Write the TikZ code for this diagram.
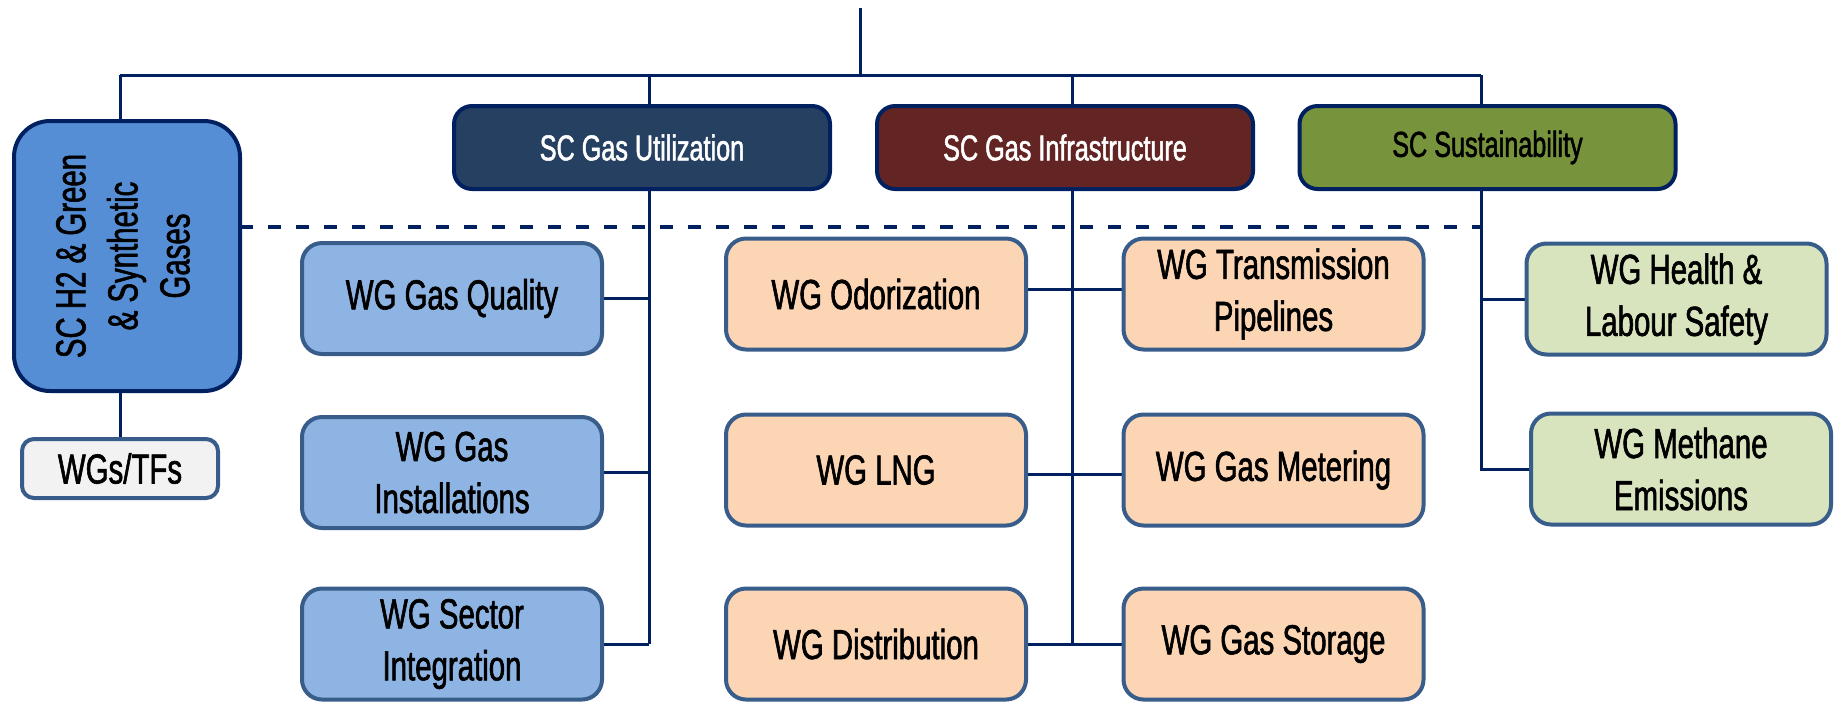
\documentclass[tikz,border=0pt]{standalone}
\usepackage{fontspec}
\setmainfont{Liberation Sans}[FakeStretch=0.70,FakeBold=1.4]
\usetikzlibrary{backgrounds}
\definecolor{navy}{RGB}{0,32,96}
\definecolor{wgline}{RGB}{56,93,138}
\definecolor{utilfill}{RGB}{37,64,97}
\definecolor{infrafill}{RGB}{99,37,35}
\definecolor{sustfill}{RGB}{119,147,60}
\definecolor{hfill}{RGB}{85,142,213}
\definecolor{bluefill}{RGB}{142,180,227}
\definecolor{orangefill}{RGB}{252,213,181}
\definecolor{greenfill}{RGB}{215,228,189}
\definecolor{greyfill}{RGB}{242,242,242}
\begin{document}
\begin{tikzpicture}[x=0.5pt,y=-0.5pt,
  conn/.style={draw=navy, line width=1.5pt},
  dashconn/.style={draw=navy, line width=2pt, dash pattern=on 6.5pt off 7.5pt},
  boxbase/.style={rectangle, inner sep=0pt, outer sep=0pt, align=center, line width=2pt},
  scbox/.style={boxbase, draw=navy, rounded corners=9pt, minimum width=188pt, minimum height=41.5pt, font=\fontsize{18}{20}\selectfont},
  wgbox/.style={boxbase, draw=wgline, rounded corners=10pt, minimum width=150pt, minimum height=55.5pt, font=\fontsize{21}{26}\selectfont},
  bluebox/.style={wgbox, fill=bluefill},
  orangebox/.style={wgbox, fill=orangefill},
  greenbox/.style={wgbox, fill=greenfill},
]
\useasboundingbox (0,0) rectangle (1839,703);

% top-level committees
\node[boxbase, draw=navy, fill=hfill, rounded corners=18pt, minimum width=113pt, minimum height=135pt,
      font=\fontsize{21}{26}\selectfont] (h2) at (127,256)
  {\rotatebox{90}{\begin{tabular}{@{}c@{}}SC H2 \& Green\\ \& Synthetic\\ Gases\end{tabular}}};
\node[boxbase, draw=wgline, fill=greyfill, rounded corners=6pt, minimum width=98pt, minimum height=29.5pt,
      font=\fontsize{21}{26}\selectfont] (wgs) at (120,468.5) {WGs/TFs};

\node[scbox, fill=utilfill, text=white] (util) at (642,147.5) {SC Gas Utilization};
\node[scbox, fill=infrafill, text=white] (infra) at (1065,147.5) {SC Gas Infrastructure};
\node[scbox, fill=sustfill] (sust) at (1487.5,147.5) {SC Sustainability};

% working groups
\node[bluebox] (quality) at (452,298.5) {WG Gas Quality};
\node[bluebox] (install) at (452,472.5) {WG Gas\\Installations};
\node[bluebox] (sector) at (452,644) {WG Sector\\Integration};

\node[orangebox] (odor) at (876,294) {WG Odorization};
\node[orangebox] (lng) at (876,470) {WG LNG};
\node[orangebox] (distr) at (876,644) {WG Distribution};

\node[orangebox] (trans) at (1273.5,294) {WG Transmission\\Pipelines};
\node[orangebox] (meter) at (1273.5,470) {WG Gas Metering};
\node[orangebox] (storage) at (1273.5,644) {WG Gas Storage};

\node[greenbox] (health) at (1676.5,299) {WG Health \&\\Labour Safety};
\node[greenbox] (methane) at (1681,469) {WG Methane\\Emissions};

% connector coordinates
\coordinate (top) at (860,8);
\coordinate (j) at (860,75);
\coordinate (c0) at (120,75);
\coordinate (c1) at (649,75);
\coordinate (c2) at (1072,75);
\coordinate (c3) at (1481,75);

\begin{scope}[on background layer]
  \draw[conn] (top) -- (j);
  \draw[conn] (c0) -- (c3);
  \draw[conn] (c0) -- (c0 |- h2.north);
  \draw[conn] (wgs.north |- h2.south) -- (wgs.north);
  % column 1
  \draw[conn] (c1) -- (c1 |- sector.east);
  \draw[conn] (quality.east) -- (quality.east -| c1);
  \draw[conn] (install.east) -- (install.east -| c1);
  \draw[conn] (sector.east) -- (sector.east -| c1);
  % column 2
  \draw[conn] (c2) -- (c2 |- distr.east);
  \draw[conn] ([yshift=2.5pt]odor.east) -- ([yshift=2.5pt]trans.west);
  \draw[conn] ([yshift=-2pt]lng.east) -- ([yshift=-2pt]meter.west);
  \draw[conn] (distr.east) -- (storage.west);
  % column 3
  \draw[conn] (c3) -- (c3 |- methane.west) -- (methane.west);
  \draw[conn] (health.west -| c3) -- (health.west);
  % dashed separator
  \draw[dashconn] ([yshift=14.5pt]h2.east) -- ([yshift=14.5pt]h2.east -| c3);
\end{scope}
\end{tikzpicture}
\end{document}
